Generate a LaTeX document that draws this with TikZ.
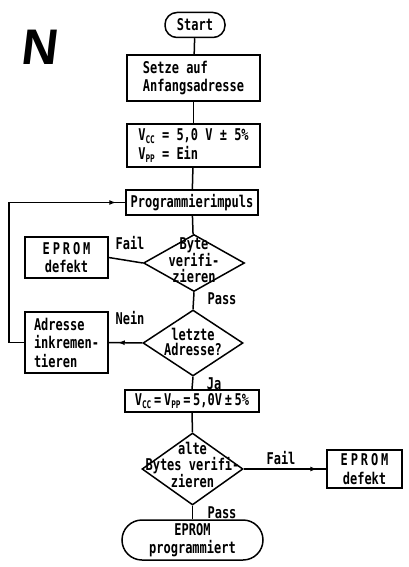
\documentclass[tikz,border=0pt]{standalone}
\usepackage{fontspec}
\setmainfont{DejaVu Sans Mono}[FakeStretch=0.74]
\newfontfamily\bigletter{Liberation Sans}[FakeSlant=0.12]
\usetikzlibrary{shapes.geometric,arrows.meta,decorations.markings}
% small subscript for supply voltage names
\newcommand\vsub[1]{\raisebox{-3pt}{\fontsize{10.5}{10.5}\selectfont #1}}
\newcommand\spread[1]{{\addfontfeature{LetterSpace=18}#1}}
\tikzset{
  flow/.style={line width=1.5pt},
  box/.style={draw, line width=1.5pt, align=center, inner sep=0pt,
    font=\bfseries\fontsize{16.2}{18.5}\selectfont},
  term/.style={box, rounded corners=12pt},
  dia/.style={draw, diamond, line width=1.5pt, inner sep=0pt},
  diatext/.style={align=center, inner sep=0pt, font=\bfseries\fontsize{16.2}{15.5}\selectfont},
  lbl/.style={inner sep=0pt, font=\bfseries\fontsize{16.2}{16}\selectfont},
  tipmid/.style={postaction={decorate}, decoration={markings,
    mark=at position -9pt with {\arrow{Latex[length=7pt,width=5pt]}}}}
}
\begin{document}
\begin{tikzpicture}[x=1pt,y=-1pt]
\useasboundingbox (0,0) rectangle (408,567);

\node[inner sep=0pt, font=\bigletter\bfseries\fontsize{50}{50}\selectfont] (letter) at (39,47) {N};

% main column
\node[term, minimum width=60, minimum height=25] (start) at (195,25) {Start};
\node[box, align=left, minimum width=133, minimum height=46] (init) at (193.5,78)
  {Setze auf\\Anfangsadresse};
\node[box, align=left, minimum width=133, minimum height=43] (pwr) at (193.5,145.5)
  {V\vsub{CC} = 5,0 V ± 5\%\\V\vsub{PP} = Ein};
\node[box, minimum width=132, minimum height=25] (pulse) at (192,202.5) {Programmierimpuls};

\node[dia, minimum width=101, minimum height=57] (vbyte) at (194,263) {};
\node[diatext] (vbytetxt) at (194,260) {Byte\\verifi-\\zieren};

\node[dia, minimum width=100, minimum height=66] (last) at (193,343) {};
\node[diatext] (lasttxt) at (193,342) {letzte\\Adresse?};

\node[box, minimum width=134, minimum height=22] (pwr2) at (192,401)
  {V\vsub{CC}\,=\,V\vsub{PP}\,=\,5,0V\,±\,5\%};

\node[dia, minimum width=101, minimum height=72] (vall) at (192.5,469) {};
\node[diatext] (valltxt) at (192.5,465) {alte\\Bytes verifi-\\zieren};

\node[box, rounded corners=20pt, minimum width=141, minimum height=40] (done) at (192.5,540)
  {EPROM\\programmiert};

% side boxes
\node[box, minimum width=83, minimum height=41] (bad1) at (66.5,257.5)
  {\spread{EPROM}\\defekt};
\node[box, align=left, minimum width=83, minimum height=61] (inc) at (66.5,342.5)
  {Adresse\\inkremen-\\tieren};
\node[box, minimum width=75, minimum height=38] (bad2) at (364.5,469)
  {\spread{EPROM}\\defekt};

\coordinate (loopdown) at (9,342.5);
\coordinate (loopup) at (9,202.5);

% connectors
\draw[flow] (start) -- (init);
\draw[flow] (init) -- (pwr);
\draw[flow] (pwr) -- (pulse);
\draw[flow] (pulse) -- (vbyte);
\draw[flow] (vbyte.west) -- (bad1.east);
\draw[flow] (vbyte.south) -- (last.north);
\draw[flow, tipmid] (last.west) -- (inc.east);
\draw[flow, tipmid] (inc.west) -- (loopdown) -- (loopup) -- (pulse.west);
\draw[flow] (last.south) -- (pwr2.north);
\draw[flow] (pwr2.south) -- (vall.north);
\draw[flow, tipmid] (vall.east) -- (bad2.west);
\draw[flow] (vall.south) -- (done.north);

% branch labels
\node[lbl] (fail1) at (130,243) {Fail};
\node[lbl] (pass1) at (222,299) {Pass};
\node[lbl] (nein) at (130,318) {Nein};
\node[lbl] (ja) at (214,384) {Ja};
\node[lbl] (fail2) at (281,458) {Fail};
\node[lbl] (pass2) at (222,513) {Pass};
\end{tikzpicture}
\end{document}
